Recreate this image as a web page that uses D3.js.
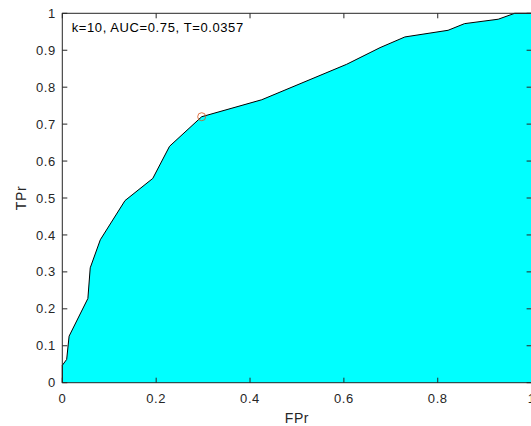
<!doctype html>
<html>
<head>
<meta charset="UTF-8">
<script src="https://cdn.jsdelivr.net/npm/d3@7"></script>
<style>
  body { margin: 0; background: #fff; }
  text { font-family: "Liberation Sans", Arial, sans-serif; }
</style>
</head>
<body>
<script>
// ROC curve points
const fpr = [0, 0, 0.0093, 0.0145, 0.0545, 0.0595, 0.081, 0.1336, 0.1928, 0.2285, 0.297, 0.425, 0.606, 0.677, 0.730, 0.822, 0.857, 0.929, 0.964, 1];
const tpr = [0, 0.047, 0.063, 0.126, 0.228, 0.311, 0.387, 0.493, 0.553, 0.640, 0.720, 0.766, 0.862, 0.907, 0.936, 0.954, 0.972, 0.984, 1, 1];
const xTicks = [0, 0.2, 0.4, 0.6, 0.8, 1];
const yTicks = [0, 0.1, 0.2, 0.3, 0.4, 0.5, 0.6, 0.7, 0.8, 0.9, 1];
const opPoint = [0.297, 0.720];
const label = "k=10, AUC=0.75, T=0.0357";

const W = 531, H = 426;
const margin = {left: 62.3, top: 13.3};
const pw = 469.3, ph = 369.4;
const axisCol = "#262626";

const svg = d3.select("body").append("svg")
    .attr("width", W).attr("height", H);
const g = svg.append("g")
    .attr("transform", "translate(" + margin.left + "," + margin.top + ")");

const x = d3.scaleLinear().domain([0, 1]).range([0, pw]);
const y = d3.scaleLinear().domain([0, 1]).range([ph, 0]);

const pts = fpr.map((d, i) => [d, tpr[i]]);

// filled area under the curve
const area = d3.area()
    .x(d => x(d[0])).y0(y(0)).y1(d => y(d[1]));
g.append("path").datum(pts)
    .attr("d", area)
    .attr("fill", "#00ffff");

const line = d3.line().x(d => x(d[0])).y(d => y(d[1]));
g.append("path").datum(pts)
    .attr("d", line)
    .attr("fill", "none")
    .attr("stroke", "#000")
    .attr("stroke-width", 1);

g.append("circle")
    .attr("cx", x(opPoint[0])).attr("cy", y(opPoint[1]))
    .attr("r", 4)
    .attr("fill", "none")
    .attr("stroke", "#d95319")
    .attr("stroke-width", 0.8);

// axes (box with inward ticks)
const tickLen = 5;
const ax = g.append("g").attr("stroke", axisCol).attr("stroke-width", 1);
ax.append("rect").attr("x", 0).attr("y", 0).attr("width", pw).attr("height", ph)
    .attr("fill", "none");
xTicks.forEach(t => {
  ax.append("line").attr("x1", x(t)).attr("x2", x(t)).attr("y1", ph).attr("y2", ph - tickLen);
  ax.append("line").attr("x1", x(t)).attr("x2", x(t)).attr("y1", 0).attr("y2", tickLen);
});
yTicks.forEach(t => {
  ax.append("line").attr("x1", 0).attr("x2", tickLen).attr("y1", y(t)).attr("y2", y(t));
  ax.append("line").attr("x1", pw).attr("x2", pw - tickLen).attr("y1", y(t)).attr("y2", y(t));
});

const fs = "13px", ls = "0.6px";
g.selectAll(".xt").data(xTicks).enter().append("text")
    .attr("x", d => x(d)).attr("y", ph + 20.5)
    .attr("text-anchor", "middle")
    .attr("font-size", fs).attr("letter-spacing", ls).attr("fill", axisCol)
    .text(d => d3.format("~g")(d));
g.selectAll(".yt").data(yTicks).enter().append("text")
    .attr("x", -6.5).attr("y", d => y(d) + 4.6)
    .attr("text-anchor", "end")
    .attr("font-size", fs).attr("letter-spacing", ls).attr("fill", axisCol)
    .text(d => d3.format("~g")(d));

g.append("text")
    .attr("x", pw / 2).attr("y", ph + 40)
    .attr("text-anchor", "middle")
    .attr("font-size", "14px").attr("letter-spacing", ls).attr("fill", axisCol)
    .text("FPr");
g.append("text")
    .attr("transform", "translate(-36," + (ph / 2) + ") rotate(-90)")
    .attr("text-anchor", "middle")
    .attr("font-size", "14px").attr("letter-spacing", ls).attr("fill", axisCol)
    .text("TPr");

g.append("text")
    .attr("x", 9.4).attr("y", 19)
    .attr("font-size", fs).attr("letter-spacing", ls).attr("fill", "#000")
    .text(label);
</script>
</body>
</html>
